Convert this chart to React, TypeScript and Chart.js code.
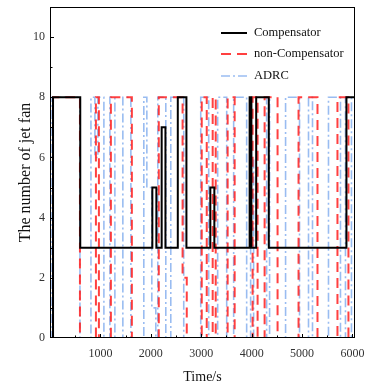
import React, { useEffect, useRef } from 'react';
import { Chart, registerables } from 'chart.js';

Chart.register(...registerables);

// ---- data ----
const X_MAX = 6050;
const Y_MAX = 11;
const xTickLabels = [1000, 2000, 3000, 4000, 5000, 6000];
const yTickLabels = [0, 2, 4, 6, 8, 10];
const seriesNames = ['Compensator', 'non-Compensator', 'ADRC'];

const compTimes = [0, 60, 600, 2030, 2110, 2215, 2290, 2535, 2706, 3180, 3260, 3960, 3995, 4090, 4340, 5880, 6050];
const compLevels = [0, 8, 3, 5, 3, 7, 3, 8, 3, 5, 3, 8, 3, 8, 3, 8, 8];

const nonCompTimes = [0, 60, 594, 911, 970, 1208, 1624, 2158, 2630, 2713, 3010, 3109, 3227, 3287, 3524, 3663, 4019, 4118, 4257, 4514, 4930, 5306, 5702, 5920, 6050];
const nonCompLevels = [0, 8, 0, 8, 0, 8, 0, 8, 2, 0, 8, 0, 8, 0, 8, 0, 8, 0, 8, 0, 8, 0, 8, 0, 0];

const adrcTimes = [0, 40, 594, 812, 891, 950, 1069, 1188, 1287, 1445, 1604, 1861, 1921, 2020, 2099, 2138, 2297, 2396, 2653, 2990, 3148, 3326, 3505, 3643, 3901, 3980, 4039, 4297, 4356, 4673, 4950, 5128, 5207, 5524, 5762, 5861, 5980, 6050];
const adrcLevels = [0, 8, 0, 8, 6, 8, 0, 8, 0, 8, 0, 8, 5, 1, 0, 8, 0, 8, 0, 8, 0, 8, 0, 8, 0, 6, 0, 8, 0, 8, 0, 8, 0, 8, 0, 8, 0, 0];

const SERIF = '"Liberation Serif", "Times New Roman", serif';

function toPoints(times: number[], levels: number[]) {
  return times.map((t, i) => ({ x: t, y: levels[i] }));
}

const framePlugin = {
  id: 'frameTicks',
  afterDatasetsDraw(chart: any) {
    const { ctx, chartArea: a, scales } = chart;
    ctx.save();
    ctx.strokeStyle = '#000';
    ctx.lineWidth = 1;
    ctx.strokeRect(Math.round(a.left) + 0.5, Math.round(a.top) + 0.5, Math.round(a.right - a.left) - 1, Math.round(a.bottom - a.top) - 1);
    ctx.beginPath();
    for (let v = 1; v < Y_MAX; v++) {
      const y = Math.round(scales.y.getPixelForValue(v)) + 0.5;
      const len = v % 2 === 0 ? 4 : 2.5;
      ctx.moveTo(a.left, y);
      ctx.lineTo(a.left + len, y);
    }
    for (let v = 500; v < X_MAX; v += 500) {
      const x = Math.round(scales.x.getPixelForValue(v)) + 0.5;
      const len = v % 1000 === 0 ? 4 : 2.5;
      ctx.moveTo(x, a.bottom);
      ctx.lineTo(x, a.bottom - len);
    }
    ctx.stroke();

    // legend
    const x0 = a.right - 134;
    const rows = [26, 47, 69];
    chart.data.datasets.forEach((ds: any, i: number) => {
      const y = a.top + rows[i];
      ctx.beginPath();
      ctx.strokeStyle = ds.borderColor;
      ctx.lineWidth = ds.borderWidth;
      ctx.setLineDash(ds.borderDash || []);
      ctx.moveTo(x0, y);
      ctx.lineTo(x0 + 26, y);
      ctx.stroke();
      ctx.setLineDash([]);
      ctx.fillStyle = '#111';
      ctx.font = `12.5px ${SERIF}`;
      ctx.textBaseline = 'middle';
      ctx.textAlign = 'left';
      ctx.fillText(ds.label, x0 + 33, y);
    });
    ctx.restore();
  },
};

export default function App() {
  const ref = useRef<HTMLCanvasElement | null>(null);

  useEffect(() => {
    if (!ref.current) return;
    const chart = new Chart(ref.current, {
      type: 'line',
      data: {
        datasets: [
          {
            label: seriesNames[0],
            data: toPoints(compTimes, compLevels),
            borderColor: '#000000',
            borderWidth: 2,
            stepped: 'before',
            pointRadius: 0,
            fill: false,
          },
          {
            label: seriesNames[1],
            data: toPoints(nonCompTimes, nonCompLevels),
            borderColor: 'rgba(255,30,30,0.85)',
            borderWidth: 2,
            borderDash: [10, 6],
            stepped: 'before',
            pointRadius: 0,
            fill: false,
          },
          {
            label: seriesNames[2],
            data: toPoints(adrcTimes, adrcLevels),
            borderColor: 'rgba(110,160,235,0.7)',
            borderWidth: 1.6,
            borderDash: [9, 3, 2, 3],
            stepped: 'before',
            pointRadius: 0,
            fill: false,
          },
        ],
      },
      options: {
        responsive: false,
        maintainAspectRatio: false,
        animation: false,
        layout: { padding: { top: 7, right: 12, left: 0, bottom: 0 } },
        plugins: { legend: { display: false }, tooltip: { enabled: false } },
        scales: {
          x: {
            type: 'linear',
            min: 0,
            max: X_MAX,
            grid: { display: false, drawTicks: false, tickLength: 0 },
            border: { display: false },
            afterBuildTicks: (s: any) => {
              s.ticks = xTickLabels.map((v) => ({ value: v }));
            },
            ticks: {
              autoSkip: false,
              maxRotation: 0,
              minRotation: 0,
              padding: 9,
              color: '#333',
              font: { family: SERIF, size: 12 },
              callback: (v: any) => String(v),
            },
            title: {
              display: true,
              text: 'Time/s',
              color: '#111',
              font: { family: SERIF, size: 14 },
              padding: { top: 0, bottom: 0 },
            },
            afterFit: (s: any) => {
              s.height = 48;
              s.paddingLeft = 0;
              s.paddingRight = 0;
            },
          },
          y: {
            type: 'linear',
            min: 0,
            max: Y_MAX,
            grid: { display: false, drawTicks: false, tickLength: 0 },
            border: { display: false },
            afterBuildTicks: (s: any) => {
              s.ticks = yTickLabels.map((v) => ({ value: v }));
            },
            ticks: {
              autoSkip: false,
              padding: 5,
              color: '#333',
              font: { family: SERIF, size: 12 },
              callback: (v: any) => String(v),
            },
            title: {
              display: true,
              text: 'The number of jet fan',
              color: '#111',
              font: { family: SERIF, size: 16 },
              padding: { top: 16, bottom: 0 },
            },
            afterFit: (s: any) => {
              s.width = 50;
              s.paddingTop = 0;
              s.paddingBottom = 0;
            },
          },
        },
      },
      plugins: [framePlugin],
    } as any);
    return () => chart.destroy();
  }, []);

  return (
    <div style={{ position: 'fixed', left: 0, top: 0, width: 367, height: 386, background: '#fff' }}>
      <canvas ref={ref} width={367} height={386} />
    </div>
  );
}
